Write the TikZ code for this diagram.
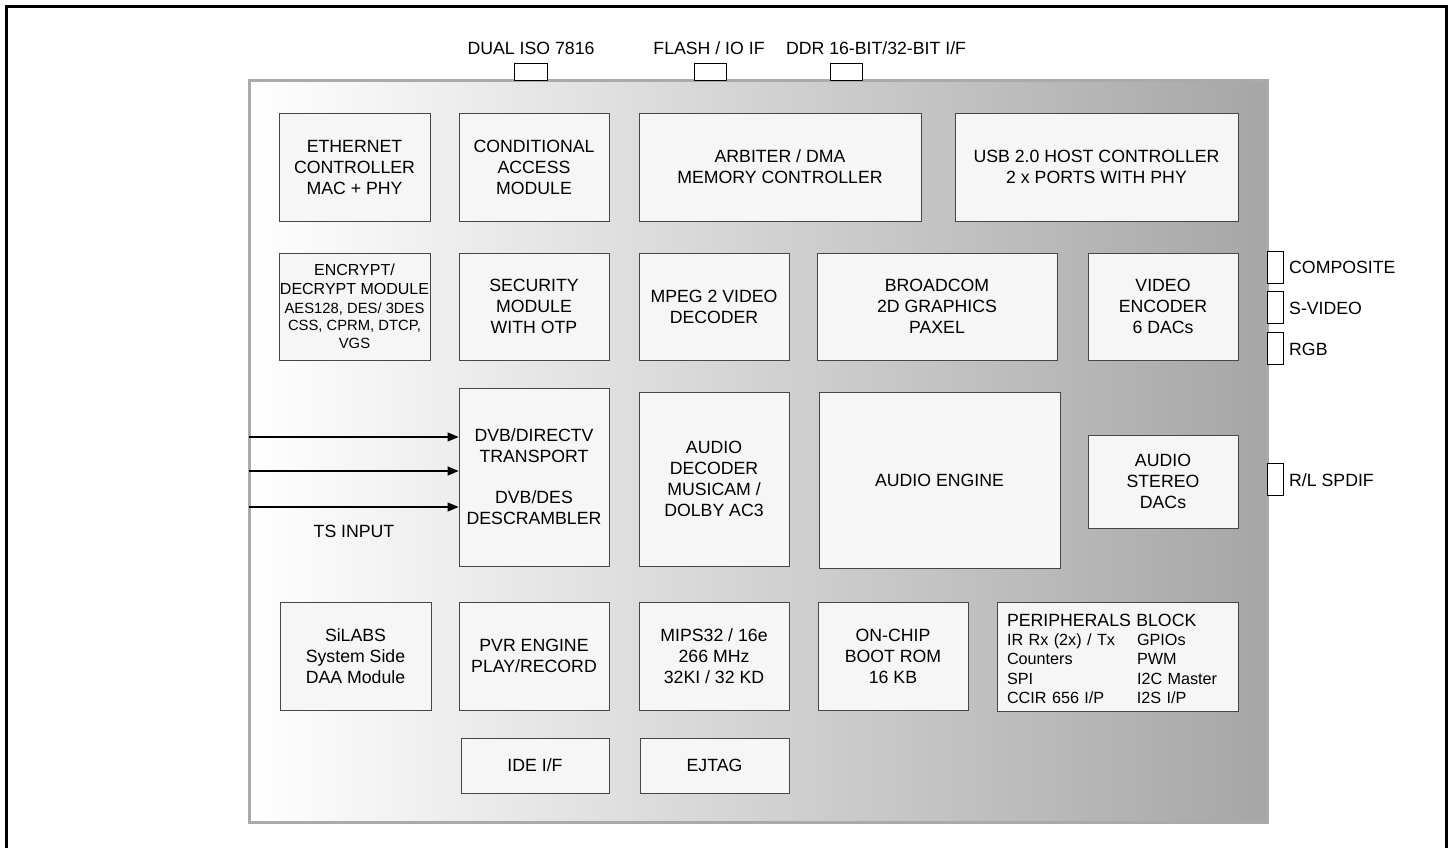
\documentclass[tikz,border=0pt]{standalone}
\usepackage{fontspec}
\setmainfont{Liberation Sans}
\usetikzlibrary{arrows.meta, positioning}
\definecolor{chipedge}{RGB}{170, 170, 170}
\definecolor{chipdark}{RGB}{166, 166, 166}
\definecolor{blkfill}{RGB}{246, 246, 246}
\definecolor{blkedge}{RGB}{70, 70, 70}

\begin{document}
\begin{tikzpicture}[x=1pt, y=-1pt,
  blk/.style={draw=blkedge, fill=blkfill, line width=0.9pt, align=center, inner sep=2pt, font=\fontsize{17.7}{21}\selectfont},
  pin/.style={draw=black, fill=white, line width=1pt},
  lbl/.style={font=\fontsize{17.7}{20}\selectfont, inner sep=0pt}
]
  \useasboundingbox (0,0) rectangle (1450,848);
  \begin{scope}
    \clip (0,0) rectangle (1450,848);
    \draw[line width=3pt] (6,870) -- (6,7) -- (1446,7) -- (1446,870);
  \end{scope}

  % chip body
  \node[draw=chipedge, line width=3pt, left color=white, right color=chipdark, shading=axis,
        minimum width=1018pt, minimum height=741pt, inner sep=0pt] (chip) at (758,451.5) {};

  % top pins
  \draw[pin] (514,64) rectangle (547,81);
  \draw[pin] (694,64) rectangle (726,81);
  \draw[pin] (830,64) rectangle (862,81);
  \node[lbl] (iso) at (531,48) {DUAL ISO 7816};
  \node[lbl] (flash) at (709,48) {FLASH / IO IF};
  \node[lbl] (ddr) at (876,48) {DDR 16-BIT/32-BIT I/F};

  % right pins
  \draw[pin] (1267,251) rectangle (1283,283);
  \draw[pin] (1267,291) rectangle (1283,323);
  \draw[pin] (1267,332) rectangle (1283,364);
  \draw[pin] (1267,463) rectangle (1283,495);
  \node[lbl, anchor=west] (comp) at (1289,267) {COMPOSITE};
  \node[lbl, anchor=west] (svid) at (1289,308) {S-VIDEO};
  \node[lbl, anchor=west] (rgb) at (1289,349) {RGB};
  \node[lbl, anchor=west] (spdif) at (1289,480) {R/L SPDIF};

  % row 1
  \node[blk, minimum width=151pt, minimum height=108pt] (eth) at (354.5,167) {ETHERNET\\CONTROLLER\\MAC + PHY};
  \node[blk, minimum width=150pt, minimum height=108pt] (cam) at (534,167) {CONDITIONAL\\ACCESS\\MODULE};
  \node[blk, minimum width=282pt, minimum height=108pt] (arb) at (780,167) {ARBITER / DMA\\MEMORY CONTROLLER};
  \node[blk, minimum width=283pt, minimum height=108pt] (usb) at (1096.5,167) {USB 2.0 HOST CONTROLLER\\2 x PORTS WITH PHY};

  % row 2
  \node[blk, minimum width=151pt, minimum height=107pt, inner xsep=0pt, font=\fontsize{14.8}{17.5}\selectfont] (enc) at (354.5,306.5)
    {{\fontsize{16}{19}\selectfont ENCRYPT/}\\[1.5pt]{\fontsize{16}{19}\selectfont DECRYPT MODULE}\\[1pt]AES128, DES/ 3DES\\CSS, CPRM, DTCP,\\VGS};
  \node[blk, minimum width=150pt, minimum height=107pt] (sec) at (534,306.5) {SECURITY\\MODULE\\WITH OTP};
  \node[blk, minimum width=150pt, minimum height=107pt] (mpeg) at (714,306.5) {MPEG 2 VIDEO\\DECODER};
  \node[blk, minimum width=240pt, minimum height=107pt] (gfx) at (937,306.5) {BROADCOM\\2D GRAPHICS\\PAXEL};
  \node[blk, minimum width=150pt, minimum height=107pt] (venc) at (1163,306.5) {VIDEO\\ENCODER\\6 DACs};

  % row 3
  \node[blk, minimum width=150pt, minimum height=178pt] (dvb) at (534,477) {DVB/DIRECTV\\TRANSPORT\\[20pt]DVB/DES\\DESCRAMBLER};
  \node[blk, minimum width=150pt, minimum height=174pt] (adec) at (714,479) {AUDIO\\DECODER\\MUSICAM /\\DOLBY AC3};
  \node[blk, minimum width=241pt, minimum height=176pt] (aeng) at (939.5,480) {AUDIO ENGINE};
  \node[blk, minimum width=150pt, minimum height=93pt] (adac) at (1163,481.5) {AUDIO\\STEREO\\DACs};

  % ts inputs
  \coordinate (ts1) at (249,437);
  \coordinate (ts2) at (249,471);
  \coordinate (ts3) at (249,507);
  \foreach \i in {1,2,3}
    \draw[line width=1.2pt, -{Triangle[length=11pt, width=9pt]}] (ts\i) -- (ts\i -| dvb.west);
  \node[lbl] (tsin) at (354,531) {TS INPUT};

  % row 4
  \node[blk, minimum width=151pt, minimum height=108pt] (silabs) at (355.5,656) {SiLABS\\System Side\\DAA Module};
  \node[blk, minimum width=150pt, minimum height=108pt] (pvr) at (534,656) {PVR ENGINE\\PLAY/RECORD};
  \node[blk, minimum width=150pt, minimum height=108pt] (mips) at (714,656) {MIPS32 / 16e\\266 MHz\\32KI / 32 KD};
  \node[blk, minimum width=150pt, minimum height=108pt] (rom) at (893,656) {ON-CHIP\\BOOT ROM\\16 KB};
  \node[blk, minimum width=241pt, minimum height=109pt, inner xsep=10pt, text width=221pt, align=left,
        font=\fontsize{16.2}{19.4}\selectfont] (peri) at (1117.5,657)
    {\begin{tabular}{@{}l@{\hspace{22pt}}l@{}}
      \multicolumn{2}{@{}l}{\rule{0pt}{21.6pt}\fontsize{17.7}{19.4}\selectfont PERIPHERALS BLOCK}\\
      IR Rx (2x) / Tx & GPIOs\\
      Counters & PWM\\
      SPI & I2C Master\\
      CCIR 656 I/P & I2S I/P
    \end{tabular}};

  % row 5
  \node[blk, minimum width=148pt, minimum height=55pt] (ide) at (535,765.5) {IDE I/F};
  \node[blk, minimum width=149pt, minimum height=55pt] (ejtag) at (714.5,765.5) {EJTAG};
\end{tikzpicture}
\end{document}
